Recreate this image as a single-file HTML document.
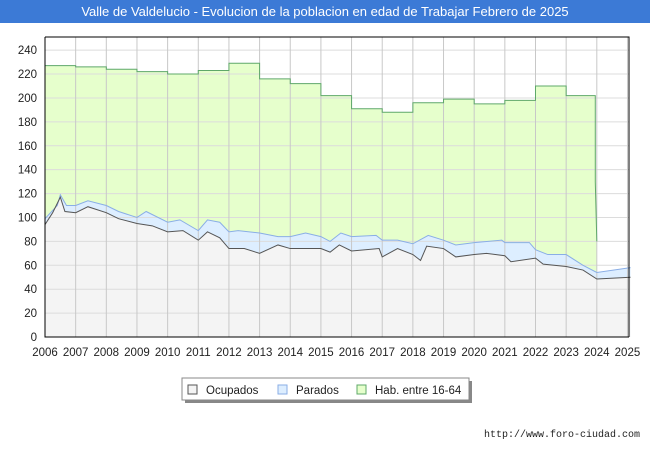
<!DOCTYPE html>
<html><head><meta charset="utf-8"><style>
body{margin:0;width:650px;height:450px;background:#fff;font-family:"Liberation Sans",sans-serif;overflow:hidden}
#title{position:absolute;left:0;top:0;width:650px;height:23px;background:#3c7ad6;color:#fff;font-size:13px;text-align:center;line-height:23px}
</style></head><body>
<div id="title">Valle de Valdelucio - Evolucion de la poblacion en edad de Trabajar Febrero de 2025</div>
<svg id="c" width="650" height="450" style="position:absolute;left:0;top:0"></svg>
<script>
const habYears=[2006,2007,2008,2009,2010,2011,2012,2013,2014,2015,2016,2017,2018,2019,2020,2021,2022,2023];
const habValues=[227,226,224,222,220,223,229,216,212,202,191,188,196,199,195,198,210,202];
const ocYears=[2006,2006.25,2006.5,2006.65,2007,2007.4,2008,2008.4,2009,2009.5,2010,2010.5,2011,2011.3,2011.7,2012,2012.5,2013,2013.6,2014,2014.5,2015,2015.3,2015.6,2016,2016.9,2017,2017.5,2018,2018.25,2018.45,2019,2019.4,2020,2020.4,2021,2021.2,2022,2022.25,2023,2023.55,2024,2025.1];
const ocValues=[94,104,117,105,104,109,104,99,95,93,88,89,81,88,83,74,74,70,77,74,74,74,71,77,72,74,67,74,69,64,76,74,67,69,70,68,63,66,61,59,56,48.5,50];
const paYears=[2006,2006.4,2006.5,2006.7,2007,2007.4,2008,2008.4,2009,2009.3,2010,2010.4,2011,2011.3,2011.7,2012,2012.3,2013,2013.6,2014,2014.5,2015,2015.3,2015.65,2016,2016.8,2017,2017.5,2018,2018.5,2019,2019.4,2020,2020.9,2021,2021.8,2022,2022.4,2023,2023.55,2024,2025.1];
const paValues=[99,110,119,110,110,114,110,105,100,105,96,98,89,98,96,88,89,87,84,84,87,84,80,87,84,85,81,81,78,85,81,77,79,81,79,79,73,69,69,60,54,58];
const yTicks=[0,20,40,60,80,100,120,140,160,180,200,220,240];
const xTicks=[2006,2007,2008,2009,2010,2011,2012,2013,2014,2015,2016,2017,2018,2019,2020,2021,2022,2023,2024,2025];
const L=45,R=629,T=37,B=337,X0=2006,X1=2025.05,YMAX=251;
const sx=v=>L+(v-X0)/(X1-X0)*(R-L), sy=v=>B-v/YMAX*(B-T);
const svg=document.getElementById('c');const NS='http://www.w3.org/2000/svg';
function mk(t,a,p){const e=document.createElementNS(NS,t);for(const k in a)e.setAttribute(k,a[k]);(p||svg).appendChild(e);return e;}
// hab step path
let hp=`M${sx(2006)},${sy(0)}`;
habYears.forEach((y,i)=>{hp+=` L${sx(y)},${sy(habValues[i])} L${sx(i<habYears.length-1?habYears[i+1]:2023.95)},${sy(habValues[i])}`;});
const habEnd=sx(2023.95);
let habLine=hp.replace(/^M[^L]*L/,'M')+` L${habEnd},${sy(130)} L${sx(2024)},${sy(80)}`;
hp+=` L${sx(2024)},${sy(80)} L${sx(2024)},${sy(0)} Z`;
const bg=mk('rect',{x:L,y:T,width:R-L,height:B-T,fill:'#fff'});


const ha=mk('path',{d:hp,fill:'#e6ffcc'});


const line=(xs,vs)=>xs.map((x,i)=>(i?'L':'M')+sx(x)+','+sy(vs[i])).join(' ');
const pa=mk('path',{d:line(paYears,paValues)+` L${sx(2025.1)},${sy(0)} L${sx(2006)},${sy(0)} Z`,fill:'#ddeeff'});


const oa=mk('path',{d:line(ocYears,ocValues)+` L${sx(2025.1)},${sy(0)} L${sx(2006)},${sy(0)} Z`,fill:'#f4f4f4'});


yTicks.forEach(v=>{const g=mk('line',{x1:L,x2:R,y1:sy(v),y2:sy(v),stroke:'#dcdcdc'});


const t=mk('text',{x:L-8,y:sy(v)+4,'text-anchor':'end','font-size':'11.5',fill:'#222'});t.textContent=v;

});
xTicks.forEach(v=>{const g=mk('line',{x1:sx(v),x2:sx(v),y1:T,y2:B,stroke:'#c8c8c8'});


const t=mk('text',{x:sx(v),y:B+19,'text-anchor':'middle','font-size':'11.5',fill:'#222'});t.textContent=v;

});
const hl=mk('path',{d:habLine,fill:'none',stroke:'#5fa86a','stroke-width':1});


const pl=mk('path',{d:line(paYears,paValues),fill:'none',stroke:'#8aaee6','stroke-width':1});


const ol=mk('path',{d:line(ocYears,ocValues),fill:'none',stroke:'#555','stroke-width':1});


const fr=mk('path',{d:`M${L},${T} L${R},${T} L${R},${B} M${L},${T} L${L},${B} L${R},${B}`,fill:'none',stroke:'#000','stroke-width':1});


// legend
const lg=mk('g',{});


mk('rect',{x:185,y:381,width:287,height:22,fill:'#888'},lg);
mk('rect',{x:182,y:378,width:287,height:22,fill:'#fff',stroke:'#888'},lg);
[['Ocupados','#f4f4f4','#555',188],['Parados','#ddeeff','#8aaee6',278],['Hab. entre 16-64','#e6ffcc','#5fa86a',357]].forEach(([n,f,s,x])=>{
const r=mk('rect',{x:x,y:385,width:9,height:9,fill:f,stroke:s},lg);


const t=mk('text',{x:x+18,y:394,'font-size':'11.5',fill:'#222'},lg);t.textContent=n;

});
const u=mk('text',{x:640,y:437,'text-anchor':'end','font-size':'10',fill:'#222','font-family':'Liberation Mono, monospace'});u.textContent='http://www.foro-ciudad.com';


</script>
</body></html>
